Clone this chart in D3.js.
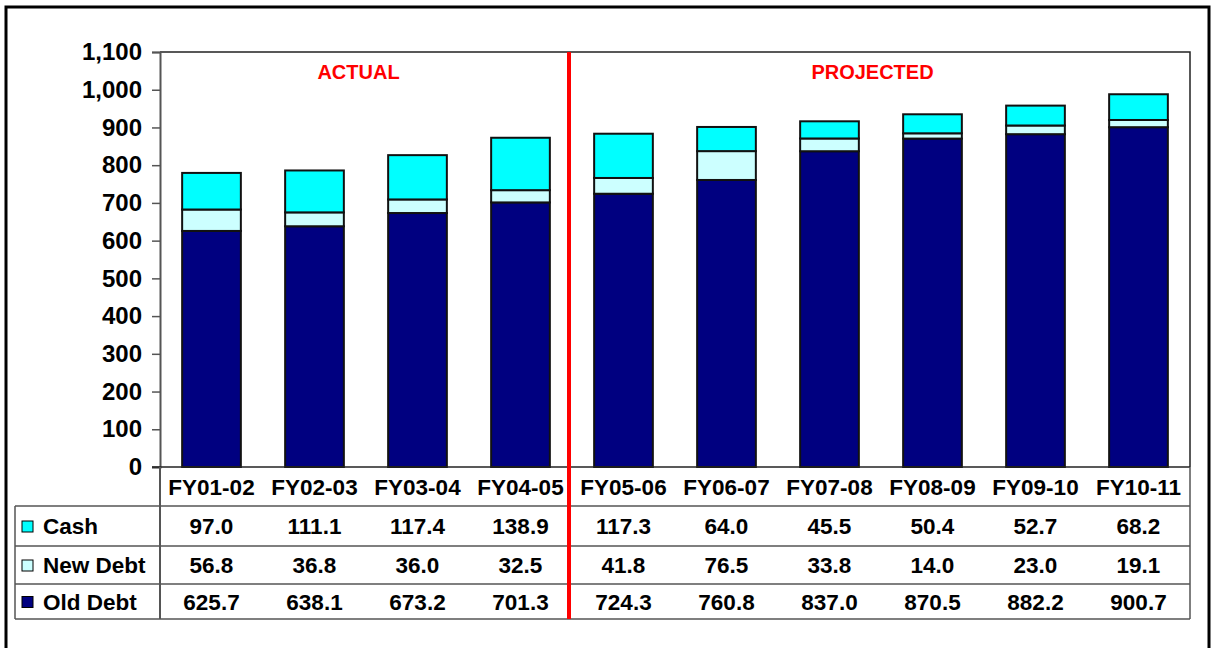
<!DOCTYPE html>
<html>
<head>
<meta charset="utf-8">
<script src="https://cdn.jsdelivr.net/npm/d3@7"></script>
<style>
  body { margin: 0; background: #fff; }
  text { font-family: "Liberation Sans", Arial, sans-serif; font-weight: bold; }
</style>
</head>
<body>
<div id="chart"></div>
<script>
// data
const years = ['FY01-02', 'FY02-03', 'FY03-04', 'FY04-05', 'FY05-06',
  'FY06-07', 'FY07-08', 'FY08-09', 'FY09-10', 'FY10-11'];
const cash = [97.0, 111.1, 117.4, 138.9, 117.3, 64.0, 45.5, 50.4, 52.7, 68.2];
const newDebt = [56.8, 36.8, 36.0, 32.5, 41.8, 76.5, 33.8, 14.0, 23.0, 19.1];
const oldDebt = [625.7, 638.1, 673.2, 701.3, 724.3, 760.8, 837.0, 870.5, 882.2, 900.7];
const yTicks = [0, 100, 200, 300, 400, 500, 600, 700, 800, 900, 1000, 1100];

const series = [
  { name: 'Cash', values: cash, color: '#00ffff' },
  { name: 'New Debt', values: newDebt, color: '#ccffff' },
  { name: 'Old Debt', values: oldDebt, color: '#000080' },
];

const width = 1214;
const height = 648;
const plot = { left: 160, right: 1190, top: 52, bottom: 467 };
const rowH = [467, 506, 546, 584, 619]; // table row edges

const svg = d3
  .select('#chart')
  .append('svg')
  .attr('width', width)
  .attr('height', height);

// outer frame (runs off the bottom)
svg
  .append('rect')
  .attr('x', 6)
  .attr('y', 7)
  .attr('width', 1203)
  .attr('height', 700)
  .attr('fill', 'none')
  .attr('stroke', '#000')
  .attr('stroke-width', 3);

const x = d3
  .scaleBand()
  .domain(years)
  .range([plot.left, plot.right])
  .paddingInner(0.43)
  .paddingOuter(0.215);

const y = d3.scaleLinear().domain([0, 1100]).range([plot.bottom, plot.top]);

// plot border (top + right)
svg
  .append('path')
  .attr('d', `M${plot.left},${plot.top}H${plot.right}V${plot.bottom}`)
  .attr('fill', 'none')
  .attr('stroke', '#222')
  .attr('stroke-width', 1.5);

// stacked bars
const rows = years.map((yr, i) => ({
  year: yr,
  'Old Debt': oldDebt[i],
  'New Debt': newDebt[i],
  Cash: cash[i],
}));
const stack = d3.stack().keys(['Old Debt', 'New Debt', 'Cash'])(rows);
const colorOf = {};
series.forEach((s) => (colorOf[s.name] = s.color));

svg
  .append('g')
  .selectAll('g')
  .data(stack)
  .join('g')
  .attr('fill', (d) => colorOf[d.key])
  .selectAll('rect')
  .data((d) => d)
  .join('rect')
  .attr('x', (d) => x(d.data.year))
  .attr('width', x.bandwidth())
  .attr('y', (d) => y(d[1]))
  .attr('height', (d) => y(d[0]) - y(d[1]))
  .attr('stroke', '#111')
  .attr('stroke-width', 2);

// y axis
const yAxis = svg
  .append('g')
  .attr('transform', `translate(${plot.left},0)`)
  .call(
    d3
      .axisLeft(y)
      .tickValues(yTicks)
      .tickSize(8)
      .tickPadding(10)
      .tickFormat(d3.format(','))
  );
yAxis.select('.domain').attr('stroke', '#555').attr('stroke-width', 2);
yAxis.selectAll('.tick line').attr('stroke', '#555').attr('stroke-width', 1.5);
yAxis
  .selectAll('.tick text')
  .attr('font-size', 24)
  .attr('fill', '#000')
  .attr('font-family', '"Liberation Sans", Arial, sans-serif')
  .attr('font-weight', 'bold');

// x baseline
svg
  .append('line')
  .attr('x1', plot.left - 8)
  .attr('x2', plot.right)
  .attr('y1', plot.bottom)
  .attr('y2', plot.bottom)
  .attr('stroke', '#222')
  .attr('stroke-width', 1.5);

// data table lines
const table = svg.append('g');
table
  .selectAll('.hline')
  .data(rowH.slice(1))
  .join('line')
  .attr('x1', 15)
  .attr('x2', plot.right)
  .attr('y1', (d) => d)
  .attr('y2', (d) => d)
  .attr('stroke', '#555')
  .attr('stroke-width', 1.5);
table
  .append('line')
  .attr('x1', 15)
  .attr('x2', 15)
  .attr('y1', rowH[1])
  .attr('y2', rowH[4])
  .attr('stroke', '#555')
  .attr('stroke-width', 1.5);
table
  .append('line')
  .attr('x1', plot.left)
  .attr('x2', plot.left)
  .attr('y1', plot.bottom)
  .attr('y2', rowH[4])
  .attr('stroke', '#555')
  .attr('stroke-width', 2);
table
  .append('line')
  .attr('x1', plot.right)
  .attr('x2', plot.right)
  .attr('y1', plot.bottom)
  .attr('y2', rowH[4])
  .attr('stroke', '#555')
  .attr('stroke-width', 1.5);

// category labels
table
  .selectAll('.cat')
  .data(years)
  .join('text')
  .attr('x', (d) => x(d) + x.bandwidth() / 2)
  .attr('y', (rowH[0] + rowH[1]) / 2 + 8)
  .attr('text-anchor', 'middle')
  .attr('font-size', 22.5)
  .text((d) => d);

// value rows
series.forEach((s, r) => {
  const cy = (rowH[r + 1] + rowH[r + 2]) / 2;
  table
    .append('rect')
    .attr('x', 22)
    .attr('y', cy - 5)
    .attr('width', 11)
    .attr('height', 11)
    .attr('fill', s.color)
    .attr('stroke', '#000')
    .attr('stroke-width', 1);
  table
    .append('text')
    .attr('x', 43)
    .attr('y', cy + 8)
    .attr('font-size', 22.5)
    .text(s.name);
  table
    .selectAll('.v' + r)
    .data(s.values)
    .join('text')
    .attr('x', (d, i) => x(years[i]) + x.bandwidth() / 2)
    .attr('y', cy + 8)
    .attr('text-anchor', 'middle')
    .attr('font-size', 22.5)
    .text((d) => d.toFixed(1));
});

// actual / projected divider
const divX = x(years[4]) - (x.step() - x.bandwidth()) / 2 - 3;
svg
  .append('line')
  .attr('x1', divX)
  .attr('x2', divX)
  .attr('y1', plot.top)
  .attr('y2', rowH[4])
  .attr('stroke', '#ff0000')
  .attr('stroke-width', 4);

svg
  .append('text')
  .attr('x', (plot.left + divX) / 2 - 6)
  .attr('y', 79)
  .attr('text-anchor', 'middle')
  .attr('font-size', 20)
  .attr('fill', '#ff0000')
  .text('ACTUAL');
svg
  .append('text')
  .attr('x', (divX + plot.right) / 2 - 7)
  .attr('y', 79)
  .attr('text-anchor', 'middle')
  .attr('font-size', 20)
  .attr('fill', '#ff0000')
  .text('PROJECTED');
</script>
</body>
</html>
